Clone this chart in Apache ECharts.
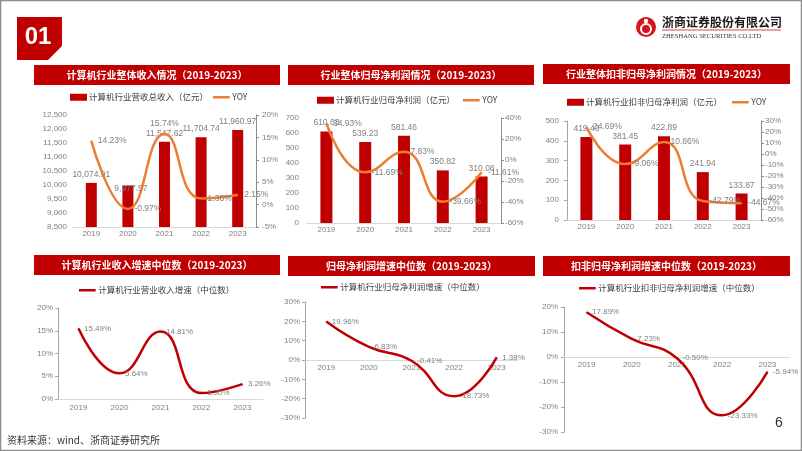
<!DOCTYPE html>
<html><head><meta charset="utf-8">
<script src="https://cdn.jsdelivr.net/npm/echarts@6/dist/echarts.min.js"></script>
<style>html,body{margin:0;padding:0;background:#fff}#c{width:802px;height:451px}</style>
</head><body><div id="c"></div>
<script>
// ---------------- data ----------------
const years = ['2019', '2020', '2021', '2022', '2023'];
const revenue = [10074.91, 9977.57, 11547.62, 11704.74, 11960.97];
const revenueYoy = [14.23, -0.97, 15.74, 1.36, 2.15];
const netProfit = [610.63, 539.23, 581.46, 350.82, 310.08];
const netProfitYoy = [34.93, -11.69, 7.83, -39.66, -11.61];
const deductedProfit = [419.43, 381.45, 422.89, 241.94, 133.87];
const deductedProfitYoy = [24.69, -9.06, 10.86, -42.79, -44.67];
const revenueMedian = [15.49, 5.64, 14.81, 1.30, 3.26];
const netProfitMedian = [19.96, 6.83, -0.41, -18.73, 1.38];
const deductedMedian = [17.89, 7.23, -0.50, -23.33, -5.94];

const panelTitles = [
  '计算机行业整体收入情况（2019-2023）',
  '行业整体归母净利润情况（2019-2023）',
  '行业整体扣非归母净利润情况（2019-2023）',
  '计算机行业收入增速中位数（2019-2023）',
  '归母净利润增速中位数（2019-2023）',
  '扣非归母净利润增速中位数（2019-2023）'
];
const seriesNames = [
  '计算机行业营收总收入（亿元）',
  '计算机行业归母净利润（亿元）',
  '计算机行业扣非归母净利润（亿元）',
  '计算机行业营业收入增速（中位数）',
  '计算机行业归母净利润增速（中位数）',
  '计算机行业扣非归母净利润增速（中位数）'
];
const yoyName = 'YOY';
const sourceText = '资料来源：wind、浙商证券研究所';
const pageNo = '6';

// ---------------- styling ----------------
const RED = '#C00000';
const ORANGE = '#ED7D31';
const GRAY = '#7F7F7F';
const FONT = '"Liberation Sans", "Noto Sans CJK SC", sans-serif';
const CJK = '"Noto Sans CJK SC", "Liberation Sans", sans-serif';

const fmtThousands = v => Number(v).toLocaleString('en-US');
const fmt2Thousands = v => Number(v).toLocaleString('en-US', {minimumFractionDigits: 2, maximumFractionDigits: 2});
const fmtPct = v => v + '%';
const fmtPct2 = v => Number(v).toFixed(2) + '%';

// label placement tweaks (per point), kept separate from values
const yoy1Pos = ['right', 'right', 'top', 'right', 'right'];
const bar1Offset = [[0, 0], [3, 11], [0, 0], [0, 0], [0, 0]];

function barData(vals, offsets) {
  return vals.map((v, i) => offsets && offsets[i] ? {value: v, label: {offset: offsets[i]}} : v);
}
function lineData(vals, pos) {
  return vals.map((v, i) => pos ? {value: v, label: {position: pos[i]}} : v);
}

const grids = [
  {left: 73, top: 115, width: 183, height: 112},
  {left: 307, top: 118, width: 194, height: 105},
  {left: 567, top: 121, width: 194, height: 99},
  {left: 58, top: 308, width: 205, height: 91},
  {left: 305, top: 302, width: 213, height: 116},
  {left: 564, top: 307, width: 226, height: 125}
];

function xAxisTop(gi) {
  return {
    type: 'category', gridIndex: gi, data: years, boundaryGap: true,
    axisLine: {show: true, onZero: false, lineStyle: {color: '#D9D9D9'}},
    axisTick: {show: false},
    axisLabel: {color: GRAY, fontSize: 8, fontFamily: FONT, margin: 3}
  };
}
// bottom panels: the category axis sits on the 0 line (offset from the grid bottom)
function xAxisBottom(gi, margin, offset) {
  return {
    type: 'category', gridIndex: gi, data: years, boundaryGap: true, offset: offset,
    axisLine: {show: true, onZero: false, lineStyle: {color: '#D9D9D9'}},
    axisTick: {show: false},
    axisLabel: {color: GRAY, fontSize: 8, fontFamily: FONT, margin: margin}
  };
}
function yLeft(gi, min, max, interval, formatter, showLine, margin) {
  return {
    type: 'value', gridIndex: gi, min, max, interval, position: 'left',
    splitLine: {show: false},
    axisLine: {show: !!showLine, lineStyle: {color: '#A6A6A6'}},
    axisTick: {show: !!showLine, length: 3, lineStyle: {color: '#A6A6A6'}},
    axisLabel: {color: GRAY, fontSize: 8, fontFamily: FONT, formatter, margin}
  };
}
function yRight(gi, min, max, interval, margin) {
  return {
    type: 'value', gridIndex: gi, min, max, interval, position: 'right',
    splitLine: {show: false},
    axisLine: {show: true, lineStyle: {color: '#8C8C8C'}},
    axisTick: {show: true, length: 3, lineStyle: {color: '#8C8C8C'}},
    axisLabel: {color: GRAY, fontSize: 8, fontFamily: FONT, formatter: fmtPct, margin}
  };
}

const dataLabel = {show: true, color: GRAY, fontSize: 8.5, fontFamily: FONT};

function barSeries(name, xi, yi, vals, width, formatter, offsets) {
  return {
    name, type: 'bar', xAxisIndex: xi, yAxisIndex: yi, barWidth: width,
    data: barData(vals, offsets), itemStyle: {color: RED},
    label: Object.assign({}, dataLabel, {position: 'top', distance: 4, formatter: p => formatter(p.value)}),
    z: 2
  };
}
function yoySeries(xi, yi, vals, pos) {
  return {
    name: yoyName, type: 'line', xAxisIndex: xi, yAxisIndex: yi, smooth: 0.5,
    symbol: 'circle', symbolSize: 1, showSymbol: true,
    data: lineData(vals, pos),
    lineStyle: {color: ORANGE, width: 2.5}, itemStyle: {color: ORANGE},
    label: Object.assign({}, dataLabel, {position: 'right', distance: 6, formatter: p => fmtPct2(p.value)}),
    z: 3
  };
}
function medianSeries(name, xi, yi, vals) {
  return {
    name, type: 'line', xAxisIndex: xi, yAxisIndex: yi, smooth: 0.5,
    symbol: 'circle', symbolSize: 1, showSymbol: true, data: vals,
    lineStyle: {color: RED, width: 2.5}, itemStyle: {color: RED},
    label: Object.assign({}, dataLabel, {fontSize: 8, position: 'right', distance: 5, formatter: p => fmtPct2(p.value)}),
    z: 3
  };
}

const LINE_ICON = 'path://M0,0H20V3H0Z';
function legendAt(name, left, cy, kind) {
  return {
    data: [{name, icon: kind === 'bar' ? 'rect' : LINE_ICON}],
    left, top: cy - 6, selectedMode: false, padding: 0,
    itemWidth: kind === 'bar' ? 17 : 18, itemHeight: kind === 'bar' ? 7 : 2.5,
    textStyle: {fontSize: 8.5, color: '#404040', fontFamily: CJK, padding: [0, 0, 0, -3]}
  };
}

// banners
const banners = [
  [34, 65, 246, 20], [288, 65, 246, 20], [543, 64, 247, 20],
  [34, 255, 246, 20], [288, 256, 247, 20], [543, 256, 247, 20]
];
const graphic = [
  {type: 'rect', shape: {x: 0.5, y: 0.5, width: 801, height: 450}, style: {fill: 'none', stroke: '#8C8C8C', lineWidth: 1.5}, z: 100},
  {type: 'polygon', shape: {points: [[17, 17], [62, 17], [62, 46], [48, 60], [17, 60]]}, style: {fill: RED}},
  {type: 'text', x: 38, y: 37, style: {text: '01', fill: '#fff', font: 'bold 24px ' + FONT, textAlign: 'center', textVerticalAlign: 'middle'}},
  {type: 'circle', shape: {cx: 646, cy: 27, r: 10}, style: {fill: '#D7141A'}},
  {type: 'circle', shape: {cx: 646, cy: 29, r: 5}, style: {fill: 'none', stroke: '#fff', lineWidth: 2}},
  {type: 'circle', shape: {cx: 646, cy: 21, r: 2.2}, style: {fill: '#fff'}},
  {type: 'text', x: 662, y: 22, style: {text: '浙商证券股份有限公司', fill: '#1a1a1a', font: 'bold 12px ' + CJK, textVerticalAlign: 'middle'}},
  {type: 'line', shape: {x1: 662, y1: 30, x2: 781, y2: 30}, style: {stroke: '#D7141A', lineWidth: 0.8}},
  {type: 'text', x: 662, y: 36, style: {text: 'ZHESHANG SECURITIES CO.LTD', fill: '#333', font: '6.6px "Liberation Serif", serif', textVerticalAlign: 'middle'}},
  {type: 'text', x: 7, y: 440, style: {text: sourceText, fill: '#333', font: '10px ' + CJK, textVerticalAlign: 'middle'}},
  {type: 'text', x: 779, y: 423, style: {text: pageNo, fill: '#333', font: '14px ' + FONT, textAlign: 'center', textVerticalAlign: 'middle'}}
];
banners.forEach((b, i) => {
  graphic.push({type: 'rect', shape: {x: b[0], y: b[1], width: b[2], height: b[3]}, style: {fill: RED}});
  graphic.push({type: 'text', x: b[0] + b[2] / 2, y: b[1] + b[3] / 2,
    style: {text: panelTitles[i], fill: '#fff', font: 'bold 10px ' + CJK, textAlign: 'center', textVerticalAlign: 'middle'}});
});

const option = {
  animation: false,
  backgroundColor: '#fff',
  grid: grids,
  xAxis: [xAxisTop(0), xAxisTop(1), xAxisTop(2), xAxisBottom(3, 5, 0), xAxisBottom(4, 4, -58), xAxisBottom(5, 4, -75)],
  yAxis: [
    yLeft(0, 8500, 12500, 500, fmtThousands, false, 6), yRight(0, -5, 20, 5, 6),
    yLeft(1, 0, 700, 100, null, false, 8), yRight(1, -60, 40, 20, 4),
    yLeft(2, 0, 500, 100, null, true, 8), yRight(2, -60, 30, 10, 4),
    yLeft(3, 0, 20, 5, fmtPct, true, 5),
    yLeft(4, -30, 30, 10, fmtPct, true, 5),
    yLeft(5, -30, 20, 10, fmtPct, true, 6)
  ],
  legend: [
    legendAt(seriesNames[0], 70, 99, 'bar'), legendAt(yoyName, 213, 99, 'line'),
    legendAt(seriesNames[1], 317, 102, 'bar'), legendAt(yoyName, 463, 102, 'line'),
    legendAt(seriesNames[2], 567, 104, 'bar'), legendAt(yoyName, 732, 104, 'line'),
    legendAt(seriesNames[3], 79, 292, 'line'),
    legendAt(seriesNames[4], 321, 289, 'line'),
    legendAt(seriesNames[5], 579, 290, 'line')
  ],
  series: [
    barSeries(seriesNames[0], 0, 0, revenue, 11, fmt2Thousands, bar1Offset),
    yoySeries(0, 1, revenueYoy, yoy1Pos),
    barSeries(seriesNames[1], 1, 2, netProfit, 12, v => v.toFixed(2)),
    yoySeries(1, 3, netProfitYoy),
    barSeries(seriesNames[2], 2, 4, deductedProfit, 12, v => v.toFixed(2)),
    yoySeries(2, 5, deductedProfitYoy),
    medianSeries(seriesNames[3], 3, 6, revenueMedian),
    medianSeries(seriesNames[4], 4, 7, netProfitMedian),
    medianSeries(seriesNames[5], 5, 8, deductedMedian)
  ],
  graphic
};

const chart = echarts.init(document.getElementById('c'), null, {renderer: 'canvas'});
chart.setOption(option);
</script>
</body></html>
